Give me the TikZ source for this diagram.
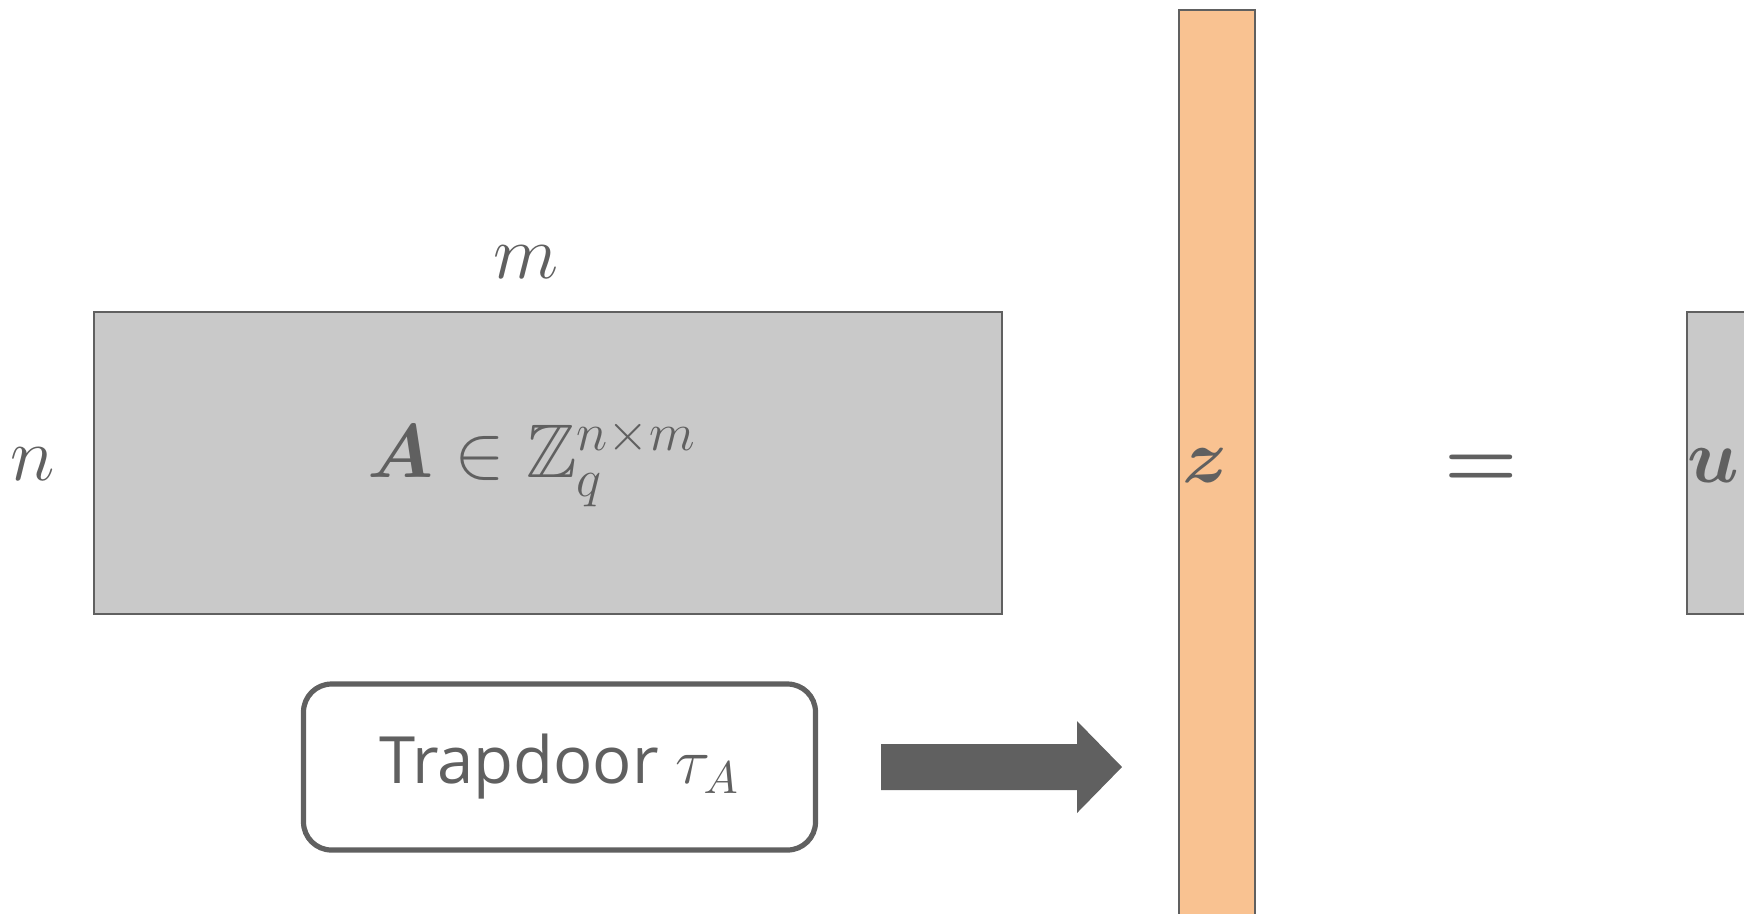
\RequirePackage{fix-cm}
\documentclass[tikz,border=0pt]{standalone}
\usepackage{amsmath,amssymb}
\usepackage{bm}
\usepackage{fontspec}
\setsansfont{Open Sans}
\definecolor{edgegray}{HTML}{606060}
\definecolor{matfill}{HTML}{C9C9C9}
\definecolor{vecfill}{HTML}{F9C291}
\tikzset{
  matbox/.style={draw=edgegray, fill=matfill, line width=0.6pt},
  vecbox/.style={draw=edgegray, fill=vecfill, line width=0.6pt},
  mathlabel/.style={text=edgegray, inner sep=0pt, font=\fontsize{19}{23}\selectfont},
  tdbox/.style={draw=edgegray, line width=1.3pt, rounded corners=7pt},
  blockarrow/.style={fill=edgegray, draw=none},
}
\begin{document}
\begin{tikzpicture}[x=0.25pt,y=-0.25pt]
\path[use as bounding box] (0,0) rectangle (1744,913);
\clip (0,0) rectangle (1744,913);
% matrix A
\draw[matbox] (94,312) rectangle (1002,614);
\node[mathlabel] (Alab) at (532,463) {$\bm{A}\in\mathbb{Z}_q^{n\times m}$};
\node[mathlabel] (mlab) at (526,262) {$m$};
\node[mathlabel] (nlab) at (33,464) {$n$};
% vector z
\draw[vecbox] (1179,10) rectangle (1255,940);
\node[mathlabel] (zlab) at (1205,466) {$\bm{z}$};
% equals
\node[mathlabel, font=\fontsize{21}{25}\selectfont] (eq) at (1481,471) {$\bm{=}$};
% vector u
\draw[matbox] (1687,312) rectangle (1770,614);
\node[mathlabel] (ulab) at (1713,466) {$\bm{u}$};
% trapdoor box
\node[tdbox, minimum width=128pt, minimum height=41.5pt, inner sep=0pt] (td) at (559.5,767)
  {\fontsize{16.3}{19}\selectfont\color{edgegray}\sffamily Trapdoor $\tau_A$};
% block arrow
\fill[blockarrow] (881,744) -- (1077,744) -- (1077,721) -- (1122,767)
  -- (1077,813) -- (1077,790) -- (881,790) -- cycle;
\end{tikzpicture}
\end{document}
